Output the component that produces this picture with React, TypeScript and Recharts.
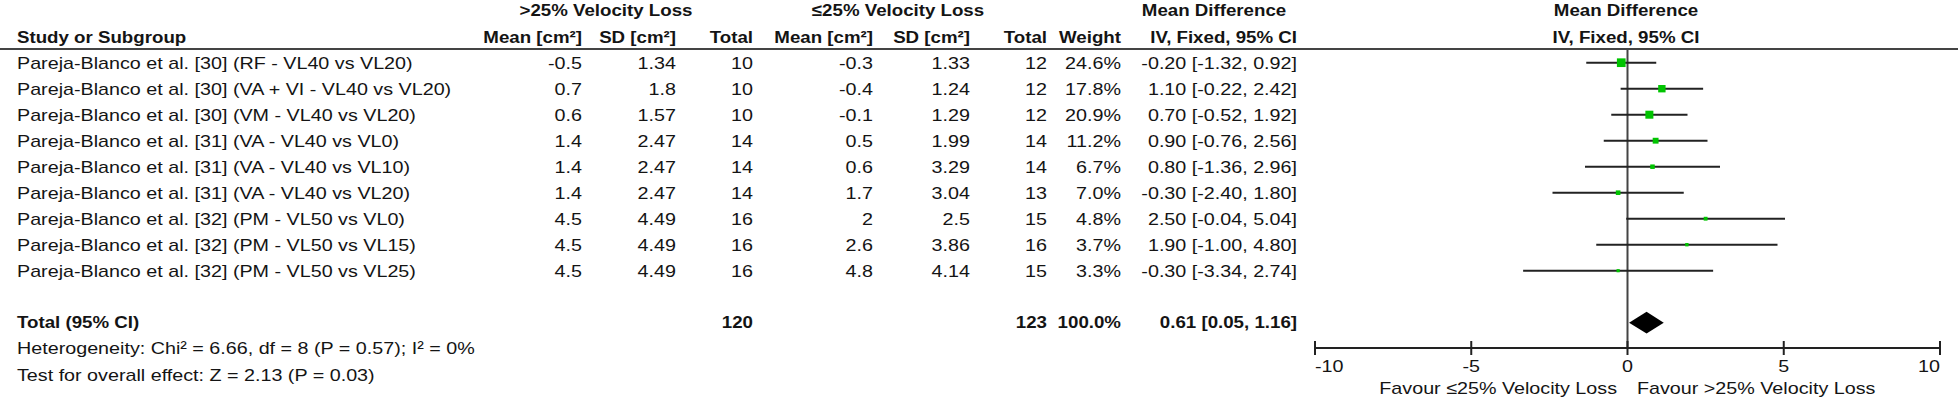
import React from "react";
import { ErrorBar, ReferenceArea, ReferenceLine, Scatter, ScatterChart, XAxis, YAxis } from "recharts";

const studies = [
  "Pareja-Blanco et al. [30] (RF - VL40 vs VL20)",
  "Pareja-Blanco et al. [30] (VA + VI - VL40 vs VL20)",
  "Pareja-Blanco et al. [30] (VM - VL40 vs VL20)",
  "Pareja-Blanco et al. [31] (VA - VL40 vs VL0)",
  "Pareja-Blanco et al. [31] (VA - VL40 vs VL10)",
  "Pareja-Blanco et al. [31] (VA - VL40 vs VL20)",
  "Pareja-Blanco et al. [32] (PM - VL50 vs VL0)",
  "Pareja-Blanco et al. [32] (PM - VL50 vs VL15)",
  "Pareja-Blanco et al. [32] (PM - VL50 vs VL25)",
];
const mean1 = [-0.5, 0.7, 0.6, 1.4, 1.4, 1.4, 4.5, 4.5, 4.5];
const sd1 = [1.34, 1.8, 1.57, 2.47, 2.47, 2.47, 4.49, 4.49, 4.49];
const n1 = [10, 10, 10, 14, 14, 14, 16, 16, 16];
const mean2 = [-0.3, -0.4, -0.1, 0.5, 0.6, 1.7, 2, 2.6, 4.8];
const sd2 = [1.33, 1.24, 1.29, 1.99, 3.29, 3.04, 2.5, 3.86, 4.14];
const n2 = [12, 12, 12, 14, 14, 13, 15, 16, 15];
const weights = [24.6, 17.8, 20.9, 11.2, 6.7, 7.0, 4.8, 3.7, 3.3];
const md = [-0.2, 1.1, 0.7, 0.9, 0.8, -0.3, 2.5, 1.9, -0.3];
const ciLo = [-1.32, -0.22, -0.52, -0.76, -1.36, -2.4, -0.04, -1.0, -3.34];
const ciHi = [0.92, 2.42, 1.92, 2.56, 2.96, 1.8, 5.04, 4.8, 2.74];

const totalN1 = 120;
const totalN2 = 123;
const totalWeight = 100.0;
const totalMd = 0.61;
const totalLo = 0.05;
const totalHi = 1.16;

const xTicks = [-10, -5, 0, 5, 10];

const rows = studies.map((s, i) => ({
  x: md[i],
  y: i + 1,
  err: [md[i] - ciLo[i], ciHi[i] - md[i]],
  w: weights[i],
}));
const totalRow = studies.length + 2;

const FONT = '"Liberation Sans", Arial, sans-serif';
const FS = 17;
const SX = 1.16;
const SXB = 1.1;
const rowY = (i: number) => 62.7 + 26 * i + 6;

// right edges of the numeric columns
const cols = [582, 676, 753, 873, 970, 1047, 1121, 1297];
const fmt = (v: number) => v.toFixed(2);

function T({ x, y, anchor = "start", bold = false, children }: any) {
  return (
    <text
      transform={`translate(${x},${y}) scale(${bold ? SXB : SX},1)`}
      textAnchor={anchor}
      fontFamily={FONT}
      fontSize={FS}
      fontWeight={bold ? 700 : 400}
      fill="#141414"
    >
      {children}
    </text>
  );
}

function Square(props: any) {
  const s = 1.75 * Math.sqrt(props.payload.w);
  return <rect x={props.cx - s / 2} y={props.cy - s / 2} width={s} height={s} fill="#00c400" />;
}

function Diamond(props: any) {
  const { x, y, width, height } = props;
  const mx = x + (width * (totalMd - totalLo)) / (totalHi - totalLo);
  const pts = `${x},${y + height / 2} ${mx},${y} ${x + width},${y + height / 2} ${mx},${y + height}`;
  return <polygon points={pts} fill="#000" />;
}

function Tick(props: any) {
  const { x, y, payload, index } = props;
  const anchor = index === 0 ? "start" : index === xTicks.length - 1 ? "end" : "middle";
  return (
    <g>
      <line x1={x} x2={x} y1={y - 7} y2={y + 7} stroke="#222" strokeWidth={2} />
      <T x={x} y={y + 24} anchor={anchor}>
        {payload.value}
      </T>
    </g>
  );
}

export default function App() {
  return (
    <div style={{ position: "fixed", left: 0, top: 0, width: 1958, height: 402, background: "#fff" }}>
      <ScatterChart width={1958} height={402} margin={{ top: 49, right: 18, bottom: 0, left: 1315 }}>
        <XAxis
          type="number"
          dataKey="x"
          domain={[-10, 10]}
          ticks={xTicks}
          allowDataOverflow
          axisLine={{ stroke: "#222", strokeWidth: 2 }}
          tickLine={false}
          tickSize={0}
          tickMargin={0}
          height={54}
          tick={<Tick />}
        />
        <YAxis type="number" dataKey="y" domain={[0.473, 11.973]} reversed hide width={0} allowDataOverflow />
        <ReferenceLine x={0} stroke="#444" strokeWidth={2} />
        <ReferenceArea
          x1={totalLo}
          x2={totalHi}
          y1={totalRow - 0.42}
          y2={totalRow + 0.42}
          shape={<Diamond />}
          ifOverflow="visible"
        />
        <Scatter data={rows} dataKey="y" shape={<Square />} isAnimationActive={false}>
          <ErrorBar dataKey="err" direction="x" width={0} stroke="#222" strokeWidth={2} isAnimationActive={false} />
        </Scatter>
      </ScatterChart>
      <svg width={1958} height={402} style={{ position: "absolute", left: 0, top: 0, pointerEvents: "none" }}>
        <line x1={0} x2={1958} y1={49} y2={49} stroke="#444" strokeWidth={2} />
        <T x={606} y={16} anchor="middle" bold>&gt;25% Velocity Loss</T>
        <T x={898} y={16} anchor="middle" bold>≤25% Velocity Loss</T>
        <T x={1214} y={16} anchor="middle" bold>Mean Difference</T>
        <T x={1626} y={16} anchor="middle" bold>Mean Difference</T>
        <T x={17} y={43} bold>Study or Subgroup</T>
        <T x={cols[0]} y={43} anchor="end" bold>Mean [cm²]</T>
        <T x={cols[1]} y={43} anchor="end" bold>SD [cm²]</T>
        <T x={cols[2]} y={43} anchor="end" bold>Total</T>
        <T x={cols[3]} y={43} anchor="end" bold>Mean [cm²]</T>
        <T x={cols[4]} y={43} anchor="end" bold>SD [cm²]</T>
        <T x={cols[5]} y={43} anchor="end" bold>Total</T>
        <T x={cols[6]} y={43} anchor="end" bold>Weight</T>
        <T x={cols[7]} y={43} anchor="end" bold>IV, Fixed, 95% CI</T>
        <T x={1626} y={43} anchor="middle" bold>IV, Fixed, 95% CI</T>
        {studies.map((s, i) => (
          <g key={s}>
            <T x={17} y={rowY(i)}>{s}</T>
            <T x={cols[0]} y={rowY(i)} anchor="end">{String(mean1[i])}</T>
            <T x={cols[1]} y={rowY(i)} anchor="end">{String(sd1[i])}</T>
            <T x={cols[2]} y={rowY(i)} anchor="end">{n1[i]}</T>
            <T x={cols[3]} y={rowY(i)} anchor="end">{String(mean2[i])}</T>
            <T x={cols[4]} y={rowY(i)} anchor="end">{String(sd2[i])}</T>
            <T x={cols[5]} y={rowY(i)} anchor="end">{n2[i]}</T>
            <T x={cols[6]} y={rowY(i)} anchor="end">{weights[i].toFixed(1)}%</T>
            <T x={cols[7]} y={rowY(i)} anchor="end">
              {`${fmt(md[i])} [${fmt(ciLo[i])}, ${fmt(ciHi[i])}]`}
            </T>
          </g>
        ))}
        <T x={17} y={328} bold>Total (95% CI)</T>
        <T x={cols[2]} y={328} anchor="end" bold>{totalN1}</T>
        <T x={cols[5]} y={328} anchor="end" bold>{totalN2}</T>
        <T x={cols[6]} y={328} anchor="end" bold>{totalWeight.toFixed(1)}%</T>
        <T x={cols[7]} y={328} anchor="end" bold>
          {`${fmt(totalMd)} [${fmt(totalLo)}, ${fmt(totalHi)}]`}
        </T>
        <T x={17} y={354}>Heterogeneity: Chi² = 6.66, df = 8 (P = 0.57); I² = 0%</T>
        <T x={17} y={381}>Test for overall effect: Z = 2.13 (P = 0.03)</T>
        <T x={1617} y={394} anchor="end">Favour ≤25% Velocity Loss</T>
        <T x={1637} y={394}>Favour &gt;25% Velocity Loss</T>
      </svg>
    </div>
  );
}
